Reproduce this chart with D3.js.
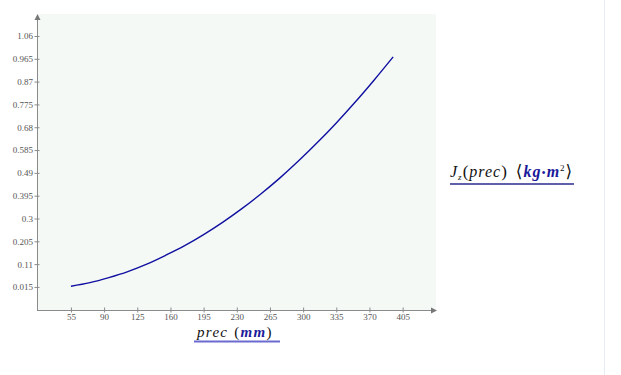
<!DOCTYPE html>
<html>
<head>
<meta charset="utf-8">
<script src="https://cdn.jsdelivr.net/npm/d3@7"></script>
<style>
  html, body { margin: 0; padding: 0; background: #fff; }
  svg { display: block; }
</style>
</head>
<body>
<svg id="chart" width="621" height="375"></svg>
<script>
// ---- data ----
const precValues = [55, 75, 95, 115, 135, 155, 175, 195, 215, 235, 255, 275, 295, 315, 335, 355, 375, 395];
const jzValues   = [0.018, 0.033, 0.054, 0.079, 0.110, 0.147, 0.187, 0.233, 0.284, 0.340, 0.401, 0.467, 0.539, 0.616, 0.698, 0.785, 0.877, 0.973];
const xTicks = [55, 90, 125, 160, 195, 230, 265, 300, 335, 370, 405];
const yTicks = [0.015, 0.11, 0.205, 0.3, 0.395, 0.49, 0.585, 0.68, 0.775, 0.87, 0.965, 1.06];
const yTickLabels = ["0.015", "0.11", "0.205", "0.3", "0.395", "0.49", "0.585", "0.68", "0.775", "0.87", "0.965", "1.06"];

const svg = d3.select("#chart");
const L = 37, R = 436, T = 14, B = 310;

const x = d3.scaleLinear().domain([19.2, 440.2]).range([L, R]);
const y = d3.scaleLinear().domain([-0.081, 1.1515]).range([B, T]);

// page border line on right
svg.append("line").attr("x1", 604.5).attr("x2", 604.5).attr("y1", 0).attr("y2", 375)
  .attr("stroke", "#e6ecf5").attr("stroke-width", 1);

// plot background
svg.append("rect").attr("x", L + 1).attr("y", T).attr("width", R - L - 1).attr("height", B - T)
  .attr("fill", "#f5f9f6");

const axisColor = "#8a8a8a";
const tickFont = "'Liberation Serif', 'DejaVu Serif', serif";

// y axis
const yAxis = d3.axisLeft(y).tickValues(yTicks).tickFormat((d, i) => yTickLabels[i])
  .tickSize(0).tickPadding(4);
const gy = svg.append("g").attr("transform", `translate(${L},0)`).call(yAxis);
gy.select(".domain").remove();
gy.selectAll(".tick line").remove();
gy.selectAll(".tick").append("line").attr("x1", -2.5).attr("x2", 2.5)
  .attr("stroke", axisColor).attr("stroke-width", 1);
gy.selectAll("text").attr("fill", "#555").style("font-family", tickFont).style("font-size", "9px");

// x axis
const xAxis = d3.axisBottom(x).tickValues(xTicks).tickFormat(d3.format("d")).tickSize(0).tickPadding(4);
const gx = svg.append("g").attr("transform", `translate(0,${B})`).call(xAxis);
gx.select(".domain").remove();
gx.selectAll(".tick line").remove();
gx.selectAll(".tick").append("line").attr("y1", -2.5).attr("y2", 2.5)
  .attr("stroke", axisColor).attr("stroke-width", 1);
gx.selectAll("text").attr("fill", "#555").style("font-family", tickFont).style("font-size", "9px");

// axis lines with arrows
svg.append("line").attr("x1", L + 0.5).attr("x2", L + 0.5).attr("y1", B).attr("y2", T + 3)
  .attr("stroke", axisColor).attr("stroke-width", 1);
svg.append("path").attr("d", `M${L + 0.5},${T} L${L - 2.5},${T + 6} L${L + 3.5},${T + 6} Z`).attr("fill", "#777");
svg.append("line").attr("x1", L).attr("x2", R - 2).attr("y1", B + 0.5).attr("y2", B + 0.5)
  .attr("stroke", axisColor).attr("stroke-width", 1);
svg.append("path").attr("d", `M${R + 1},${B + 0.5} L${R - 5},${B - 2.5} L${R - 5},${B + 3.5} Z`).attr("fill", "#777");

// curve
const line = d3.line().x((d, i) => x(precValues[i])).y(d => y(d)).curve(d3.curveMonotoneX);
svg.append("path").datum(jzValues).attr("d", line)
  .attr("fill", "none").attr("stroke", "#1010a0").attr("stroke-width", 1.4);

// x label
const serif = "'Liberation Serif', 'DejaVu Serif', serif";
const xl = svg.append("text").attr("x", 197).attr("y", 337)
  .style("font-family", serif).style("font-size", "15px").style("font-style", "italic")
  .style("letter-spacing", "1.3px").attr("fill", "#111");
xl.append("tspan").text("prec");
xl.append("tspan").attr("dx", 6).style("font-style", "normal").style("font-size", "15px").text("(");
xl.append("tspan").attr("fill", "#1a1a9a").style("font-weight", "bold").text("mm");
xl.append("tspan").style("font-style", "normal").style("font-size", "15px").text(")");
svg.append("line").attr("x1", 194).attr("x2", 280).attr("y1", 341.5).attr("y2", 341.5)
  .attr("stroke", "#6a6ad0").attr("stroke-width", 2);

// y label (right)
const yl = svg.append("text").attr("x", 450).attr("y", 177)
  .style("font-family", serif).style("font-size", "16px").style("font-style", "italic")
  .style("letter-spacing", "1px").attr("fill", "#111");
yl.append("tspan").text("J");
yl.append("tspan").attr("dy", 3).style("font-size", "9px").text("z");
yl.append("tspan").attr("dy", -3).style("font-style", "normal").style("font-size", "17px").text("(");
yl.append("tspan").text("prec");
yl.append("tspan").style("font-style", "normal").style("font-size", "17px").text(")");
yl.append("tspan").attr("dx", 8).style("font-style", "normal").style("font-size", "17px").text("\u27E8");
yl.append("tspan").attr("fill", "#1a1a9a").style("font-weight", "bold").text("kg");
yl.append("tspan").attr("fill", "#1a1a9a").style("font-style", "normal").style("font-size", "12px").text("\u2022");
yl.append("tspan").attr("fill", "#1a1a9a").style("font-weight", "bold").text("m");
yl.append("tspan").attr("dy", -6).style("font-style", "normal").style("font-size", "9px").text("2");
yl.append("tspan").attr("dy", 6).style("font-style", "normal").style("font-size", "17px").text("\u27E9");
svg.append("line").attr("x1", 450).attr("x2", 574).attr("y1", 184).attr("y2", 184)
  .attr("stroke", "#2a2a90").attr("stroke-width", 1.5);
</script>
</body>
</html>
